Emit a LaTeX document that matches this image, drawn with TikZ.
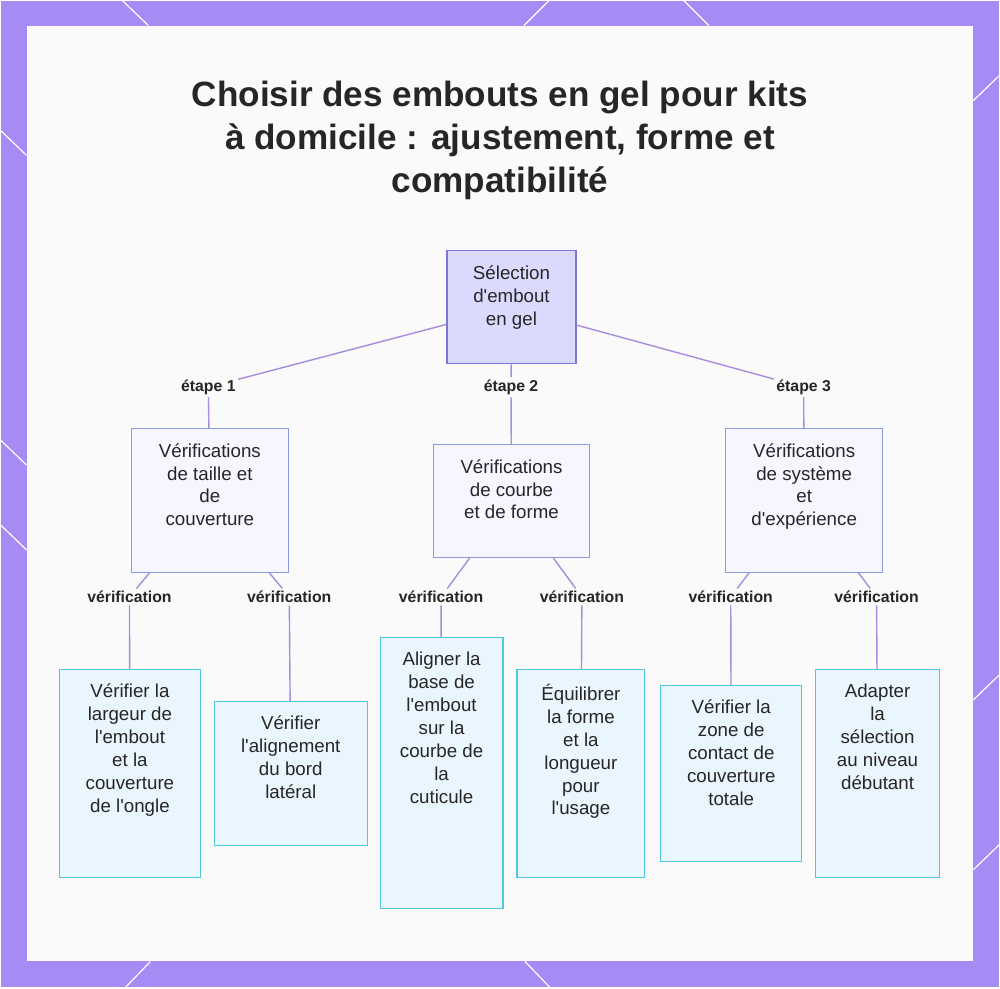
\documentclass[tikz,border=0pt]{standalone}
\usepackage{fontspec}
\setmainfont{Liberation Sans}
\usetikzlibrary{positioning}
\definecolor{bordure}{HTML}{A78BF5}
\definecolor{lien}{HTML}{A98BE0}
\newcommand\ap{\textquotesingle}
\tikzset{
  boite/.style={rectangle,line width=1pt,anchor=north,inner sep=0pt},
  racine/.style={boite,draw={rgb,255:red,120;green,120;blue,215},fill={rgb,255:red,218;green,218;blue,255}},
  etape/.style={boite,draw={rgb,255:red,140;green,155;blue,225},fill={rgb,255:red,245;green,246;blue,255}},
  feuille/.style={boite,draw={rgb,255:red,80;green,198;blue,224},fill={rgb,255:red,234;green,246;blue,253}},
  txt/.style={label={[anchor=north,yshift=-0.45cm,align=center,inner sep=0pt,text=black!85,font=\fontsize{16}{19.6}\selectfont]north:#1}},
  lbl/.style={font=\bfseries\fontsize{13.5}{15}\selectfont,inner sep=2pt,text=black!85},
}
\begin{document}
\begin{tikzpicture}[x=0.03cm,y=-0.03cm]
\fill[bordure] (0,0) rectangle (1000,988);
\fill[white!98!black] (26,25) rectangle (974,962);
\foreach \a/\b/\c/\d in {122/0/148/25, 549/0/524/25, 684/0/709/25, 125/988/150/962, 550/988/525/962, 0/130/26/155, 0/440/26/465, 0/525/26/550, 1000/75/974/100, 1000/675/974/700, 1000/845/974/870}
  \draw[white,line width=1pt] (\a,\b) -- (\c,\d);
% titre
\node[font=\bfseries\fontsize{30}{37}\selectfont,align=center,text=black!85] (titre) at (500,140) {Choisir des embouts en gel pour kits\\à domicile : ajustement, forme et\\compatibilité};
% noeuds
\node[racine,minimum width=129*0.03cm,minimum height=113*0.03cm,txt={Sélection\\d\ap embout\\en gel}] (R) at (511.5,250) {};
\node[etape,minimum width=157*0.03cm,minimum height=144*0.03cm,txt={Vérifications\\de taille et\\de\\couverture}] (A) at (209.5,428) {};
\node[etape,minimum width=157*0.03cm,minimum height=113*0.03cm,txt={Vérifications\\de courbe\\et de forme}] (B) at (511.5,444) {};
\node[etape,minimum width=157*0.03cm,minimum height=144*0.03cm,txt={Vérifications\\de système\\et\\d\ap expérience}] (C) at (804.5,428) {};
\node[feuille,minimum width=141*0.03cm,minimum height=208*0.03cm,txt={Vérifier la\\largeur de\\l\ap embout\\et la\\couverture\\de l\ap ongle}] (A1) at (129.5,669) {};
\node[feuille,minimum width=153*0.03cm,minimum height=144*0.03cm,txt={Vérifier\\l\ap alignement\\du bord\\latéral}] (A2) at (290.5,701) {};
\node[feuille,minimum width=123*0.03cm,minimum height=271*0.03cm,txt={Aligner la\\base de\\l\ap embout\\sur la\\courbe de\\la\\cuticule}] (B1) at (441.5,637) {};
\node[feuille,minimum width=128*0.03cm,minimum height=208*0.03cm,txt={Équilibrer\\la forme\\et la\\longueur\\pour\\l\ap usage}] (B2) at (581,669) {};
\node[feuille,minimum width=141*0.03cm,minimum height=176*0.03cm,txt={Vérifier la\\zone de\\contact de\\couverture\\totale}] (C1) at (731.5,685) {};
\node[feuille,minimum width=124*0.03cm,minimum height=208*0.03cm,txt={Adapter\\la\\sélection\\au niveau\\débutant}] (C2) at (878,669) {};
% etiquettes
\node[lbl] (e1) at (208,387) {étape 1};
\node[lbl] (e2) at (511,387) {étape 2};
\node[lbl] (e3) at (804,387) {étape 3};
\node[lbl] (v1) at (129,597) {vérification};
\node[lbl] (v2) at (289,597) {vérification};
\node[lbl] (v3) at (441,597) {vérification};
\node[lbl] (v4) at (582,597) {vérification};
\node[lbl] (v5) at (731,597) {vérification};
\node[lbl] (v6) at (877,597) {vérification};
% liens
\draw[lien,line width=1.2pt] (R) -- (e1) -- (A);
\draw[lien,line width=1.2pt] (R) -- (e2) -- (B);
\draw[lien,line width=1.2pt] (R) -- (e3) -- (C);
\draw[lien,line width=1.2pt] (A) -- (v1) -- (A1);
\draw[lien,line width=1.2pt] (A) -- (v2) -- (A2);
\draw[lien,line width=1.2pt] (B) -- (v3) -- (B1);
\draw[lien,line width=1.2pt] (B) -- (v4) -- (B2);
\draw[lien,line width=1.2pt] (C) -- (v5) -- (C1);
\draw[lien,line width=1.2pt] (C) -- (v6) -- (C2);
\end{tikzpicture}
\end{document}
